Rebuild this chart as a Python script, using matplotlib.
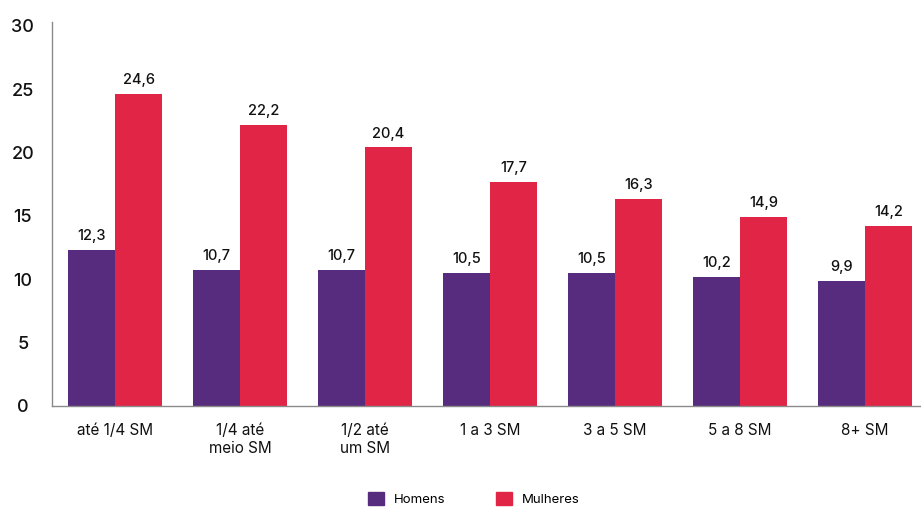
import matplotlib
matplotlib.use("Agg")
import matplotlib.pyplot as plt
import numpy as np
from matplotlib.patches import Patch

categories = ["até 1/4 SM", "1/4 até\nmeio SM", "1/2 até\num SM", "1 a 3 SM", "3 a 5 SM", "5 a 8 SM", "8+ SM"]
homens = [12.3, 10.7, 10.7, 10.5, 10.5, 10.2, 9.9]
mulheres = [24.6, 22.2, 20.4, 17.7, 16.3, 14.9, 14.2]
yticks = [0, 5, 10, 15, 20, 25, 30]

plt.rcParams['font.family'] = ['Inter', 'DejaVu Sans']

c_h = "#572C7E"
c_m = "#E02547"

fig = plt.figure(figsize=(9.21, 5.07), dpi=100)
ax = fig.add_axes([52/921, 101/507, 1 - 52/921, (406-22)/507])

x = np.arange(len(categories))
w = 0.376
ax.bar(x - w/2, homens, w, color=c_h)
ax.bar(x + w/2, mulheres, w, color=c_m)

for xi, v in zip(x - w/2, homens):
    ax.annotate(f"{v:.1f}".replace('.', ','), (xi, v), xytext=(0, 5), textcoords='offset points',
                ha='center', va='bottom', fontsize=10.5, color='#111111', fontweight='medium')
for xi, v in zip(x + w/2, mulheres):
    ax.annotate(f"{v:.1f}".replace('.', ','), (xi, v), xytext=(0, 5), textcoords='offset points',
                ha='center', va='bottom', fontsize=10.5, color='#111111', fontweight='medium')

ax.set_xlim(-0.504, 6.448)
ax.set_ylim(0, 30.3)
ax.set_yticks(yticks)
ax.set_yticklabels([str(t) for t in yticks], fontsize=13, color='#111111', fontweight='medium')
for lab in ax.get_yticklabels():
    lab.set_horizontalalignment('center')
ax.tick_params(axis='y', length=0, pad=21)
ax.set_xticks(x)
ax.set_xticklabels(categories, fontsize=11, color='#111111', linespacing=1.25)
ax.tick_params(axis='x', length=0, pad=12)

for s in ['top', 'right']:
    ax.spines[s].set_visible(False)
ax.spines['left'].set_color('#8a8a8a')
ax.spines['bottom'].set_color('#8a8a8a')
ax.spines['left'].set_linewidth(1.0)
ax.spines['bottom'].set_linewidth(1.0)

handles = [Patch(color=c_h, label='Homens'), Patch(color=c_m, label='Mulheres')]
fig.legend(handles=handles, loc='center', bbox_to_anchor=(474/921, 1 - 499/507), ncol=2,
           frameon=False, fontsize=9.5, handlelength=1.2, handleheight=1.2,
           columnspacing=3.8, handletextpad=0.8)

fig.savefig("out.png", dpi=100)
